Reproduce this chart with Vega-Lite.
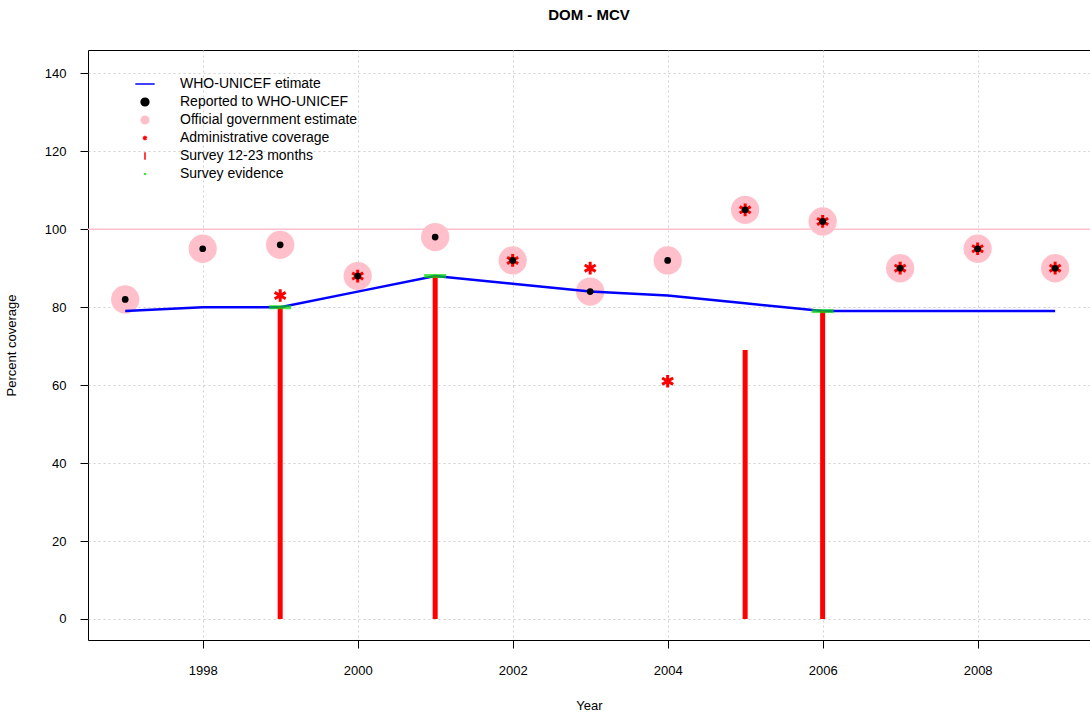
{
  "$schema": "https://vega.github.io/schema/vega-lite/v6.json",
  "autosize": "none",
  "width": 1002,
  "height": 590,
  "padding": {"left": 88, "top": 50, "right": 0, "bottom": 77},
  "background": "white",
  "title": {"text": "DOM  -  MCV", "font": "Liberation Sans", "fontSize": 15, "fontWeight": "bold", "offset": 27, "color": "black"},
  "config": {
    "view": {"stroke": "black", "strokeWidth": 1},
    "axis": {"labelFont": "Liberation Sans", "titleFont": "Liberation Sans", "labelFontSize": 13, "titleFontSize": 13, "titleFontWeight": "normal", "labelColor": "black", "titleColor": "black", "gridColor": "#d0d0d0", "gridDash": [2, 3], "domain": false, "tickColor": "black", "tickSize": 8}
  },
  "datasets": {
    "wuenic": [
      {"year": 1997, "v": 79}, {"year": 1998, "v": 80}, {"year": 1999, "v": 80}, {"year": 2000, "v": 84},
      {"year": 2001, "v": 88}, {"year": 2002, "v": 86}, {"year": 2003, "v": 84}, {"year": 2004, "v": 83},
      {"year": 2005, "v": 81}, {"year": 2006, "v": 79}, {"year": 2007, "v": 79}, {"year": 2008, "v": 79}, {"year": 2009, "v": 79}
    ],
    "reported": [
      {"year": 1997, "v": 82}, {"year": 1998, "v": 95}, {"year": 1999, "v": 96}, {"year": 2000, "v": 88},
      {"year": 2001, "v": 98}, {"year": 2002, "v": 92}, {"year": 2003, "v": 84}, {"year": 2004, "v": 92},
      {"year": 2005, "v": 105}, {"year": 2006, "v": 102}, {"year": 2007, "v": 90}, {"year": 2008, "v": 95}, {"year": 2009, "v": 90}
    ],
    "admin": [
      {"year": 1999, "v": 83}, {"year": 2000, "v": 88}, {"year": 2002, "v": 92}, {"year": 2003, "v": 90},
      {"year": 2004, "v": 61}, {"year": 2005, "v": 105}, {"year": 2006, "v": 102}, {"year": 2007, "v": 90},
      {"year": 2008, "v": 95}, {"year": 2009, "v": 90}
    ],
    "survey": [
      {"year": 1999, "v": 80, "z": 0}, {"year": 2001, "v": 88, "z": 0}, {"year": 2005, "v": 69, "z": 0}, {"year": 2006, "v": 79, "z": 0}
    ],
    "evidence": [
      {"year": 1999, "v": 80}, {"year": 2001, "v": 88}, {"year": 2006, "v": 79}
    ]
  },
  "layer": [
    {
      "data": {"values": [{"y": 100}]},
      "mark": {"type": "rule", "color": "pink", "strokeWidth": 1.5},
      "encoding": {"y": {"field": "y", "type": "quantitative"}}
    },
    {
      "data": {"name": "reported"},
      "mark": {"type": "point", "filled": true, "opacity": 1, "size": 800},
      "encoding": {
        "x": {"field": "year", "type": "quantitative", "scale": {"domain": [1996.52, 2009.45], "nice": false, "zero": false},
          "axis": {"title": "Year", "values": [1998, 2000, 2002, 2004, 2006, 2008], "format": "d", "titlePadding": 22, "labelPadding": 16}},
        "y": {"field": "v", "type": "quantitative", "scale": {"domain": [-5.4, 146], "nice": false},
          "axis": {"title": "Percent coverage", "values": [0, 20, 40, 60, 80, 100, 120, 140], "titlePadding": 26, "labelPadding": 14}},
        "color": {"datum": "Official government estimate", "type": "nominal",
          "scale": {"domain": ["WHO-UNICEF etimate", "Reported to WHO-UNICEF", "Official government estimate", "Administrative coverage", "Survey 12-23 months", "Survey evidence"],
                    "range": ["blue", "black", "pink", "red", "red", "#00dd00"]},
          "legend": {"title": null, "orient": "none", "legendX": 50, "legendY": 27, "labelFont": "Liberation Sans", "labelFontSize": 14, "labelColor": "black", "labelLimit": 400, "rowPadding": 4, "symbolSize": 60, "symbolStrokeWidth": 1.5, "labelOffset": 28}},
        "shape": {"datum": "Official government estimate", "type": "nominal",
          "scale": {"domain": ["WHO-UNICEF etimate", "Reported to WHO-UNICEF", "Official government estimate", "Administrative coverage", "Survey 12-23 months", "Survey evidence"],
                    "range": ["M-2.5,0H2.5", "circle", "circle", "M0,-0.6V0.6M-0.52,-0.3L0.52,0.3M-0.52,0.3L0.52,-0.3", "M0,-1V1", "M-0.3,0H0.3"]}}
      }
    },
    {
      "data": {"name": "wuenic"},
      "mark": {"type": "line", "strokeWidth": 2.5},
      "encoding": {
        "x": {"field": "year", "type": "quantitative"},
        "y": {"field": "v", "type": "quantitative"},
        "color": {"datum": "WHO-UNICEF etimate", "type": "nominal"}
      }
    },
    {
      "data": {"name": "survey"},
      "mark": {"type": "rule", "strokeWidth": 5},
      "encoding": {
        "x": {"field": "year", "type": "quantitative"},
        "y": {"field": "v", "type": "quantitative"},
        "y2": {"field": "z"},
        "color": {"datum": "Survey 12-23 months", "type": "nominal"}
      }
    },
    {
      "data": {"name": "evidence"},
      "mark": {"type": "tick", "orient": "horizontal", "thickness": 4, "size": 22},
      "encoding": {
        "x": {"field": "year", "type": "quantitative"},
        "y": {"field": "v", "type": "quantitative"},
        "color": {"datum": "Survey evidence", "type": "nominal"}
      }
    },
    {
      "data": {"name": "admin"},
      "mark": {"type": "point", "filled": false, "strokeWidth": 3, "size": 450, "opacity": 1},
      "encoding": {
        "x": {"field": "year", "type": "quantitative"},
        "y": {"field": "v", "type": "quantitative"},
        "color": {"datum": "Administrative coverage", "type": "nominal"},
        "shape": {"datum": "Administrative coverage", "type": "nominal"}
      }
    },
    {
      "data": {"name": "reported"},
      "mark": {"type": "point", "filled": true, "opacity": 1, "size": 45},
      "encoding": {
        "x": {"field": "year", "type": "quantitative"},
        "y": {"field": "v", "type": "quantitative"},
        "color": {"datum": "Reported to WHO-UNICEF", "type": "nominal"},
        "shape": {"datum": "Reported to WHO-UNICEF", "type": "nominal"}
      }
    }
  ]
}
